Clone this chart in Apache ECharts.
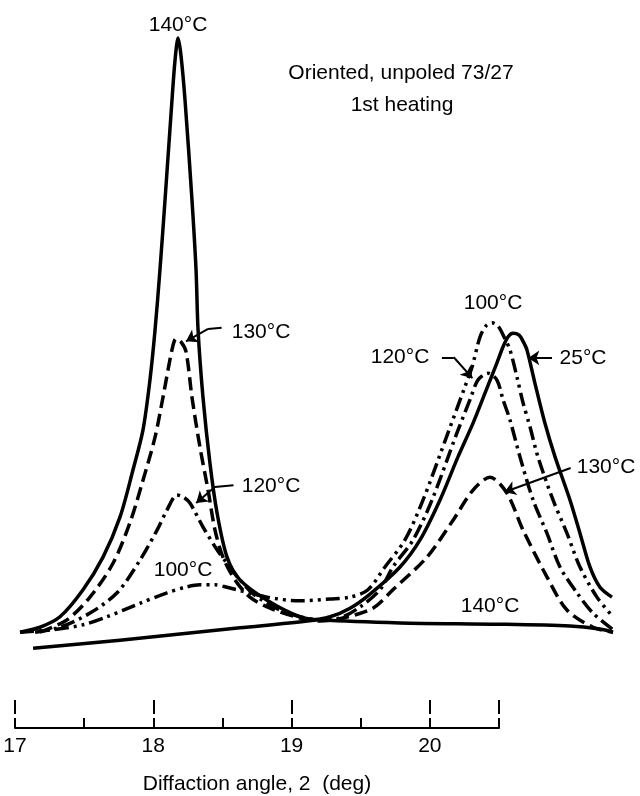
<!DOCTYPE html>
<html>
<head>
<meta charset="utf-8">
<script src="https://cdn.jsdelivr.net/npm/echarts@6/dist/echarts.min.js"></script>
<style>
    html, body { margin: 0; padding: 0; background: #fff; }
    #chart { width: 640px; height: 796px; }
</style>
</head>
<body>
<div id="chart"></div>
<script>
    // diffraction angle (deg), intensity (arbitrary units)
    const curve140 = [[17.000,2.9],[17.118,3.7],[17.236,5.4],[17.372,9.8],[17.490,15.1],[17.590,21.6],[17.667,29.3],
        [17.726,35.8],[17.767,43.9],[17.797,52.0],[17.826,61.8],[17.856,73.2],[17.897,89.4],[17.915,95.9],[17.933,99.5],
        [17.950,96.7],[17.974,89.4],[18.015,73.2],[18.039,61.8],[18.051,52.0],[18.080,41.1],[18.121,30.4],[18.163,22.3],
        [18.222,15.1],[18.298,11.4],[18.458,8.1],[18.653,5.4],[18.771,4.9],[19.243,4.4],[19.833,4.2],[20.246,3.9],
        [20.423,3.4],[20.500,2.9]];
    const curve130 = [[17.118,2.9],[17.277,4.9],[17.413,8.6],[17.549,14.1],[17.649,20.7],[17.726,27.6],[17.797,34.6],
        [17.844,41.1],[17.897,48.8],[17.921,50.6],[17.950,50.1],[17.980,48.5],[18.015,41.1],[18.062,33.0],[18.110,26.0],
        [18.151,19.5],[18.198,15.1],[18.269,11.4],[18.357,8.6],[18.476,6.8],[18.653,5.2],[18.771,4.7],[18.906,5.2],
        [19.083,6.8],[19.201,9.8],[19.402,15.1],[19.556,21.1],[19.674,26.0],[19.774,28.1],[19.874,25.5],[19.969,19.5],
        [20.110,11.9],[20.228,6.5],[20.382,3.7],[20.500,2.9]];
    const curve120 = [[17.089,2.9],[17.236,3.7],[17.413,6.0],[17.573,9.3],[17.708,14.6],[17.809,19.5],[17.868,22.8],
        [17.927,25.2],[17.962,24.9],[18.003,23.9],[18.080,20.0],[18.163,16.3],[18.222,14.1],[18.298,11.4],[18.387,8.9],
        [18.535,6.5],[18.653,5.4],[18.771,4.9],[18.889,5.2],[19.007,7.0],[19.125,9.8],[19.201,13.5],[19.320,17.9],
        [19.432,24.4],[19.579,35.3],[19.656,40.7],[19.703,43.9],[19.762,45.0],[19.815,43.9],[19.851,40.7],[19.892,37.4],
        [19.951,31.4],[20.028,24.4],[20.110,19.0],[20.187,13.5],[20.287,9.3],[20.382,6.0],[20.500,3.3]];
    const curve100 = [[17.000,2.9],[17.195,3.3],[17.372,4.1],[17.513,5.4],[17.708,7.6],[17.868,9.3],[17.974,10.2],
        [18.062,10.6],[18.151,10.6],[18.222,10.2],[18.458,8.6],[18.653,8.0],[18.830,8.3],[18.948,8.6],[19.054,9.8],
        [19.154,13.5],[19.272,17.9],[19.379,24.4],[19.526,35.3],[19.626,42.8],[19.668,46.0],[19.715,50.9],[19.750,52.7],
        [19.786,53.2],[19.821,52.7],[19.857,50.9],[19.892,48.8],[19.933,44.4],[19.969,40.2],[20.010,36.3],[20.057,31.4],
        [20.146,24.4],[20.228,19.0],[20.305,13.5],[20.405,8.6],[20.500,5.4]];
    const curve25 = [[17.077,0.3],[17.590,1.6],[18.298,3.6],[18.694,4.7],[18.830,5.4],[18.948,6.8],[19.066,9.1],
        [19.243,13.5],[19.361,17.9],[19.479,24.4],[19.585,31.4],[19.674,36.9],[19.745,41.8],[19.815,46.7],[19.851,49.3],
        [19.880,50.9],[19.910,51.5],[19.946,51.2],[19.969,50.2],[19.992,48.8],[20.039,43.4],[20.098,36.9],[20.158,31.4],
        [20.246,24.4],[20.305,19.0],[20.364,13.5],[20.423,10.2],[20.494,8.6]];

    const font = 'Liberation Sans, Arial, sans-serif';
    const black = '#000';

    let curve = (name, data, dash) => {
        return {
            name: name,
            type: 'line',
            xAxisIndex: 0,
            yAxisIndex: 0,
            data: data,
            smooth: 0.3,
            symbol: 'none',
            silent: true,
            lineStyle: { color: black, width: 3.5, type: dash, cap: 'butt', join: 'round' }
        };
    };

    let text = (str, x, y) => {
        return {
            type: 'text',
            x: x,
            y: y,
            style: { text: str, fill: black, font: '21px ' + font, textAlign: 'center', textVerticalAlign: 'middle' }
        };
    };

    let option = {
        backgroundColor: '#fff',
        animation: false,
        grid: [
            { left: 20, right: 27, top: 35, bottom: 146 },
            { left: 15, right: 141, top: 700, bottom: 68 }
        ],
        xAxis: [
            { gridIndex: 0, type: 'value', min: 17, max: 20.5, show: false },
            {
                gridIndex: 1, type: 'value', min: 17, max: 20.5, interval: 0.5,
                axisLine: { show: true, onZero: false, lineStyle: { color: black, width: 2 } },
                axisTick: { show: true, inside: true, length: 10, lineStyle: { color: black, width: 2 } },
                axisLabel: {
                    color: black, fontSize: 21, fontFamily: font, margin: 8,
                    formatter: (v) => (v % 1 === 0 ? String(v) : '')
                },
                splitLine: { show: false },
                name: 'Diffaction angle, 2  (deg)',
                nameLocation: 'middle',
                nameGap: 46,
                nameTextStyle: { color: black, fontSize: 21, fontFamily: font }
            },
            {
                gridIndex: 1, type: 'value', min: 17, max: 20.5, interval: 1,
                axisLine: { show: false, onZero: false },
                axisTick: { show: true, inside: true, length: 14, lineStyle: { color: black, width: 2 } },
                axisLabel: { show: false },
                splitLine: { show: false }
            }
        ],
        yAxis: [
            { gridIndex: 0, type: 'value', min: 0, max: 100, show: false },
            { gridIndex: 1, type: 'value', min: 0, max: 1, show: false }
        ],
        series: [
            curve('140°C', curve140, 'solid'),
            curve('130°C', curve130, [13, 6]),
            curve('120°C', curve120, [14, 5, 3, 5]),
            curve('100°C', curve100, [14, 5, 3, 5, 3, 5]),
            curve('25°C', curve25, 'solid'),
            {
                type: 'lines',
                coordinateSystem: 'cartesian2d',
                xAxisIndex: 0,
                yAxisIndex: 0,
                silent: true,
                symbol: 'none',
                lineStyle: { color: black, width: 2, opacity: 1, curveness: 0 },
                data: [
                    { coords: [[18.19, 52.4], [18.11, 52.2]] },
                    { coords: [[18.26, 26.8], [18.15, 26.5]] },
                    { coords: [[19.49, 47.6], [19.56, 47.6]] }
                ]
            },
            {
                type: 'lines',
                coordinateSystem: 'cartesian2d',
                xAxisIndex: 0,
                yAxisIndex: 0,
                silent: true,
                symbol: ['none', 'arrow'],
                symbolSize: [8, 11],
                lineStyle: { color: black, width: 2, opacity: 1, curveness: 0 },
                data: [
                    { coords: [[18.11, 52.2], [17.98, 50.2]] },
                    { coords: [[18.15, 26.5], [18.04, 23.9]] },
                    { coords: [[19.56, 47.6], [19.67, 44.2]] },
                    { coords: [[20.14, 47.5], [20.00, 47.5]] },
                    { coords: [[20.25, 29.6], [19.86, 25.7]] }
                ]
            }
        ],
        graphic: [
            text('140°C', 178, 25),
            text('Oriented, unpoled 73/27', 401, 73),
            text('1st heating', 402, 105),
            text('130°C', 261, 332),
            text('120°C', 271, 486),
            text('100°C', 183, 570),
            text('100°C', 493, 303),
            text('120°C', 400, 357),
            text('25°C', 583, 358),
            text('130°C', 606, 467),
            text('140°C', 490, 606)
        ]
    };

    let chart = echarts.init(document.getElementById('chart'), null, { renderer: 'canvas' });
    chart.setOption(option);
</script>
</body>
</html>
